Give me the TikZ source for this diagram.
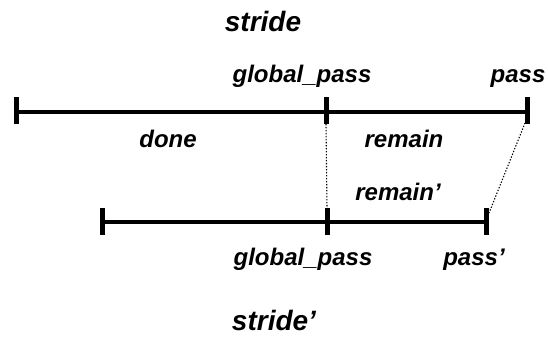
\documentclass[tikz,border=0pt]{standalone}
\usepackage{fontspec}
\setmainfont{Liberation Sans}

\begin{document}
\begin{tikzpicture}[x=1pt,y=-1pt,
    every node/.style={inner sep=0pt,anchor=base,font=\fontsize{24}{28}\selectfont\bfseries\itshape},
    title/.style={font=\fontsize{28}{32}\selectfont\bfseries\itshape},
    bar/.style={line width=4pt},
    tickmark/.style={line width=5pt},
    guide/.style={line width=1.1pt,dash pattern=on 1.3pt off 1.7pt}]

      \useasboundingbox (0,0) rectangle (548,337);

      \node[title] (S) at (263,32) {stride};

      % first line
      \coordinate (L1) at (16,112);
      \coordinate (M1) at (326,112);
      \coordinate (R1) at (527,112);
        \draw[bar] (L1) -- (R1);
        \draw[tickmark] (L1) ++(0,-15) -- ++(0,27);
        \draw[tickmark] (M1) ++(0,-15) -- ++(0,27);
        \draw[tickmark] (R1) ++(0,-15) -- ++(0,27);

      \node (G1) at (302,82) {global\_pass};
      \node (P1) at (518,82) {pass};
      \node (D) at (168,147) {done};
      \node (RM) at (404,147) {remain};

      % second line
      \coordinate (L2) at (102,222);
      \coordinate (M2) at (327,222);
      \coordinate (R2) at (486,222);
        \draw[bar] (L2) -- (R2);
        \draw[tickmark] (L2) ++(0,-14) -- ++(0,27);
        \draw[tickmark] (M2) ++(0,-14) -- ++(0,27);
        \draw[tickmark] (R2) ++(0,-14) -- ++(0,27);

      \node (RM2) at (398,200) {remain'};
      \node (G2) at (303,265) {global\_pass};
      \node (P2) at (474,265) {pass'};

        \draw[guide] ([yshift=-12pt]M1) -- ([yshift=14pt]M2);
        \draw[guide] ([xshift=-2pt,yshift=-11pt]R1) -- ([xshift=3pt,yshift=9pt]R2);

      \node[title] (S2) at (274,330) {stride'};

\end{tikzpicture}
\end{document}
